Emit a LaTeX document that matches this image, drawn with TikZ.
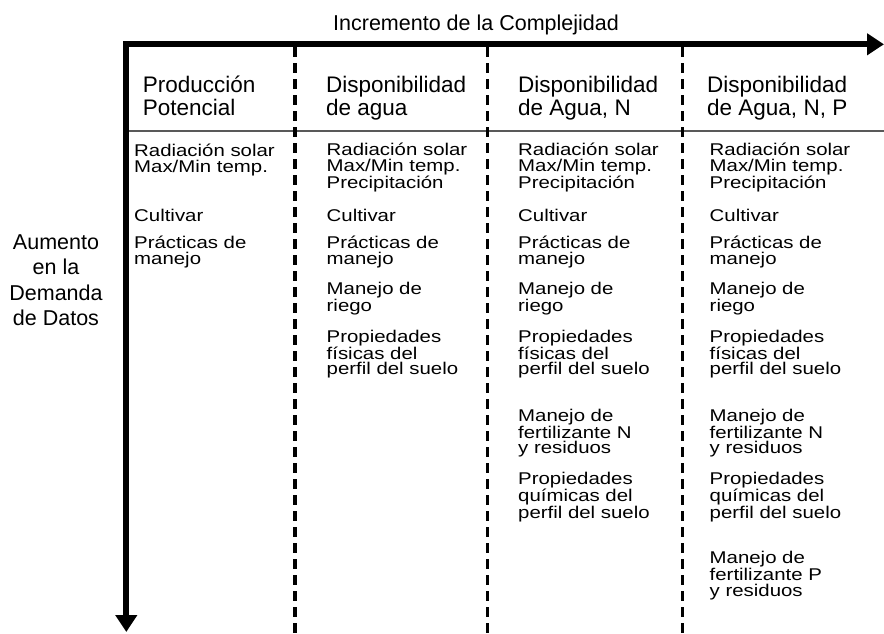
\documentclass[tikz,border=0pt]{standalone}
\usepackage{fontspec}
\setmainfont{Liberation Sans}
\newfontfamily\itemfont[FakeStretch=1.2]{Liberation Sans}
\usetikzlibrary{arrows.meta}

\begin{document}
\begin{tikzpicture}[x=1pt,y=-1pt,
	axis/.style={line width=6pt, line join=miter, {Triangle[length=17pt,width=21pt]}-{Triangle[length=17pt,width=21pt]}},
	divider/.style={line width=3.5pt, dash pattern=on 10pt off 6pt},
	sep/.style={line width=1.5pt, draw=black!65},
	colhead/.style={anchor=base west, inner sep=0pt, align=left, font=\fontsize{22.5}{22.3}\selectfont},
	item/.style={anchor=base west, inner sep=0pt, align=left, font=\itemfont\fontsize{17}{15.8}\selectfont}]
	\useasboundingbox (0,0) rectangle (884,633);
	% axes (nodes below sit on the baseline of their last line)
	\coordinate (corner) at (126.3,44.3);
	\coordinate (xend) at (884,44.3);
	\coordinate (yend) at (126.3,632);
	\draw[sep] (126.3,131) -- (884,131);
	\foreach \x in {295,487.5,682.5}
	{
		\draw[divider] (\x,47.3) -- (\x,633);
	}
	\draw[axis] (xend) -- (corner) -- (yend);
	\node[anchor=base, inner sep=0pt, font=\fontsize{21.5}{24}\selectfont] (title) at (476,30) {Incremento de la Complejidad};
	\node[anchor=base, inner sep=0pt, align=center, font=\fontsize{21.5}{25.5}\selectfont] (demand) at (56,325.8) {Aumento\\en la\\Demanda\\de Datos};
	% column heads
	\node[colhead] (head1) at (142.7,115) {Producción\\Potencial};
	\node[colhead] (head2) at (326,115) {Disponibilidad\\de agua};
	\node[colhead] (head3) at (518,115) {Disponibilidad\\de Agua, N};
	\node[colhead] (head4) at (707,115) {Disponibilidad\\de Agua, N, P};
	% data per column
	\node[item] (rad1) at (134,172.5) {Radiación solar\\Max/Min temp.};
	\foreach \c/\x in {2/326.5,3/518,4/709.5}
	{
		\node[item] (rad\c) at (\x,188.3) {Radiación solar\\Max/Min temp.\\Precipitación};
	}
	\foreach \c/\x in {1/134,2/326.5,3/518,4/709.5}
	{
		\node[item] (cult\c) at (\x,221.7) {Cultivar};
		\node[item] (prac\c) at (\x,264.1) {Prácticas de\\manejo};
	}
	\foreach \c/\x in {2/326.5,3/518,4/709.5}
	{
		\node[item] (riego\c) at (\x,311.8) {Manejo de\\riego};
		\node[item] (fis\c) at (\x,374.9) {Propiedades\\físicas del\\perfil del suelo};
	}
	\foreach \c/\x in {3/518,4/709.5}
	{
		\node[item] (fertn\c) at (\x,453.9) {Manejo de\\fertilizante N\\y residuos};
		\node[item] (quim\c) at (\x,518.3) {Propiedades\\químicas del\\perfil del suelo};
	}
	\node[item] (fertp4) at (709.5,596.6) {Manejo de\\fertilizante P\\y residuos};
\end{tikzpicture}
\end{document}
